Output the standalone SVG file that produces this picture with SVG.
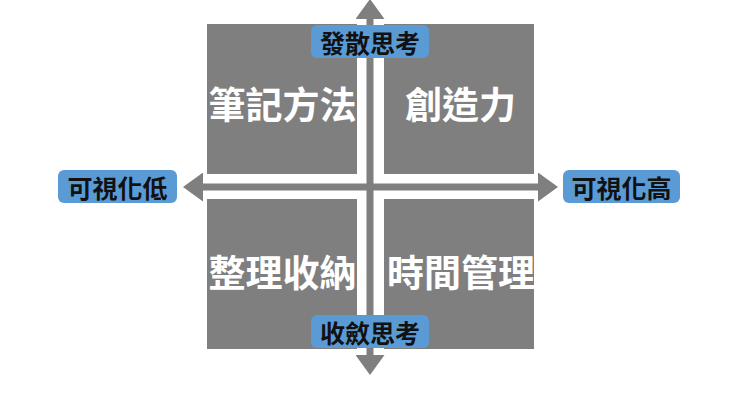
<svg xmlns="http://www.w3.org/2000/svg" width="740" height="416" viewBox="0 0 740 416">
  <style>
    .quad { fill: #7f7f7f; }
    .qtext { font-family: "Noto Sans CJK TC", "Noto Sans CJK SC", sans-serif; font-weight: 700; font-size: 37px; fill: #ffffff; text-anchor: middle; dominant-baseline: central; }
    .tag { fill: #5b9bd5; }
    .ttext { font-family: "Noto Sans CJK TC", "Noto Sans CJK SC", sans-serif; font-weight: 700; font-size: 25px; fill: #111111; text-anchor: middle; dominant-baseline: central; }
    .axis { stroke: #7f7f7f; stroke-width: 7; fill: none; }
  </style>
  <defs>
    <marker id="head" markerUnits="userSpaceOnUse" markerWidth="20" markerHeight="29" refX="0" refY="14.5" orient="auto-start-reverse" viewBox="0 0 20 29">
      <path d="M0,0 L20,14.5 L0,29 Z" fill="#7f7f7f"/>
    </marker>
  </defs>
  <rect width="740" height="416" fill="#ffffff"/>

  <g id="q-notes">
    <rect class="quad" x="207" y="24" width="150" height="150"/>
    <text class="qtext" x="282.5" y="103">筆記方法</text>
  </g>
  <g id="q-creativity">
    <rect class="quad" x="384" y="24" width="150" height="150"/>
    <text class="qtext" x="460.5" y="103">創造力</text>
  </g>
  <g id="q-organizing">
    <rect class="quad" x="207" y="199" width="150" height="150"/>
    <text class="qtext" x="282.5" y="271">整理收納</text>
  </g>
  <g id="q-time">
    <rect class="quad" x="384" y="199" width="150" height="150"/>
    <text class="qtext" x="461" y="271">時間管理</text>
  </g>

  <g id="connectors">
    <line class="axis" x1="370" y1="19" x2="370" y2="355" marker-start="url(#head)" marker-end="url(#head)"/>
    <line class="axis" x1="203" y1="187" x2="538" y2="187" marker-start="url(#head)" marker-end="url(#head)"/>
  </g>

  <g id="label-divergent">
    <rect class="tag" x="311" y="25" width="118" height="33" rx="6"/>
    <text class="ttext" x="370" y="41.5">發散思考</text>
  </g>
  <g id="label-convergent">
    <rect class="tag" x="311" y="315" width="118" height="33" rx="6"/>
    <text class="ttext" x="370" y="331.5">收斂思考</text>
  </g>
  <g id="label-low">
    <rect class="tag" x="58" y="170" width="119" height="33" rx="6"/>
    <text class="ttext" x="117.5" y="186.5">可視化低</text>
  </g>
  <g id="label-high">
    <rect class="tag" x="563" y="170" width="117" height="33" rx="6"/>
    <text class="ttext" x="621.5" y="186.5">可視化高</text>
  </g>
</svg>
